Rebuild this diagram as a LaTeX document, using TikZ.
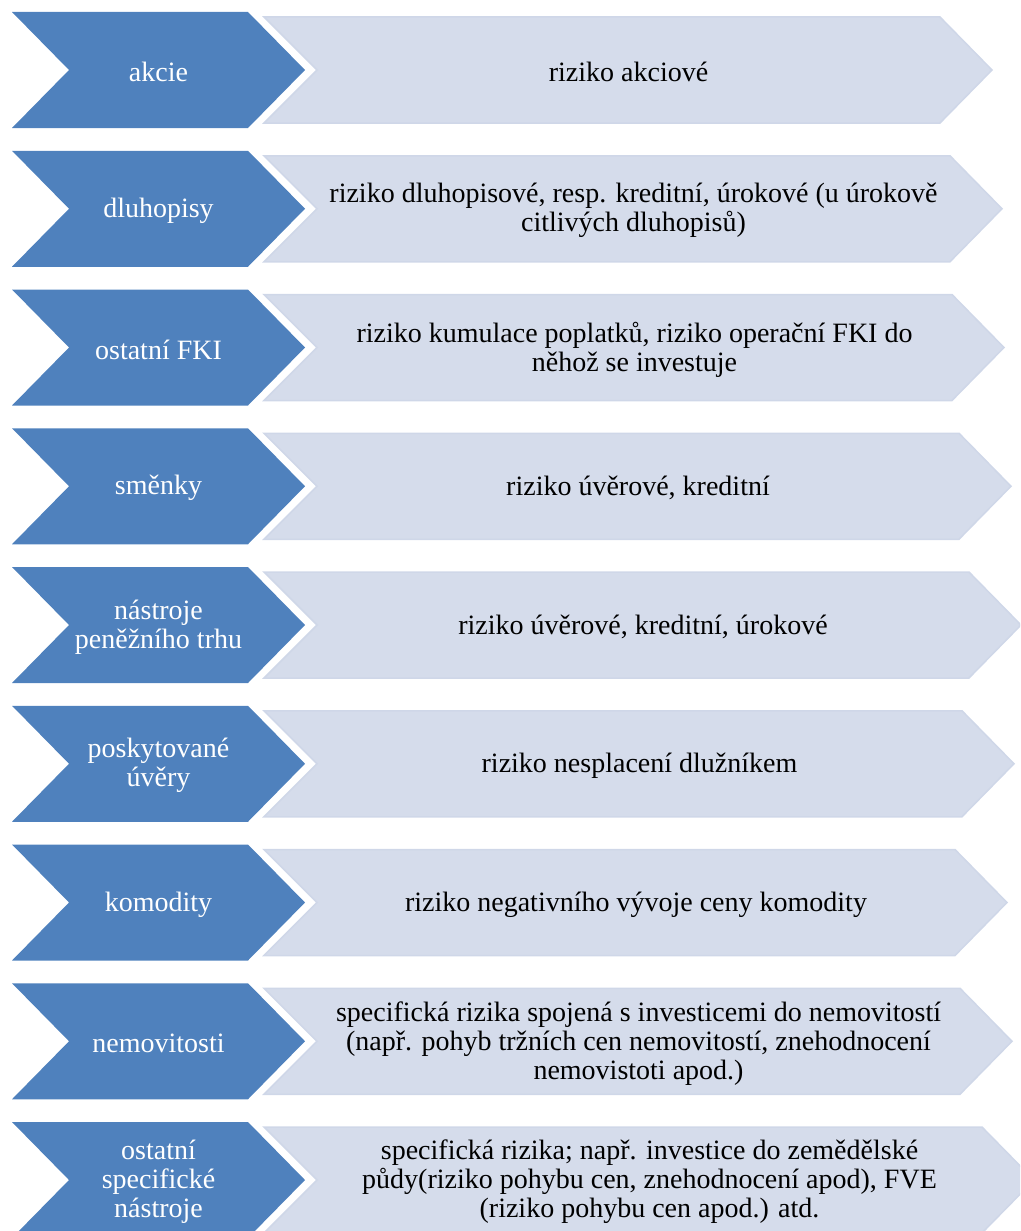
\documentclass[tikz,border=0pt]{standalone}
\usepackage{fontspec}
\setmainfont{Liberation Serif}
\newfontfamily\tnrfont{Liberation Serif}
\definecolor{chevblue}{HTML}{4F81BD}
\definecolor{chevlight}{HTML}{D5DCEB}
\definecolor{chevedge}{HTML}{CFD7E8}
\tikzset{
  bluechev/.style={fill=chevblue},
  lightchev/.style={fill=chevlight, draw=chevedge, line width=1.5pt, line join=miter},
  bluetext/.style={text=white, align=center, font=\tnrfont\fontsize{28}{29}\selectfont, inner sep=0pt},
  risktext/.style={text=black, align=center, font=\tnrfont\fontsize{28}{29}\selectfont, inner sep=0pt}
}
\newcommand\chevrow[5]{%
  \path[bluechev] (12,#2) -- (248,#2) -- (305,{#2+58}) -- (248,{#2+116}) -- (12,{#2+116}) -- (69,{#2+58}) -- cycle;
  \path[lightchev] (264,{#2+5}) -- (#3,{#2+5}) -- ({#3+52},{#2+58}) -- (#3,{#2+111}) -- (264,{#2+111}) -- (317,{#2+58}) -- cycle;
  \node[bluetext] (L#1) at (158.5,{#2+60}) {#4};
  \node[risktext] (R#1) at ({(317+#3)/2},{#2+60}) {#5};
}
\begin{document}
\begin{tikzpicture}[x=1pt,y=-1pt]
\useasboundingbox (0,0) rectangle (1020,1231);
\begin{scope}
\clip (0,0) rectangle (1020,1231);
\chevrow{a}{12}{940}{akcie}{riziko akciové}
\chevrow{b}{150.75}{950}{dluhopisy}{riziko dluhopisové, resp. kreditní, úrokové (u úrokově\\citlivých dluhopisů)}
\chevrow{c}{289.5}{952}{ostatní FKI}{riziko kumulace poplatků, riziko operační FKI do\\něhož se investuje}
\chevrow{d}{428.25}{959}{směnky}{riziko úvěrové, kreditní}
\chevrow{e}{567}{969}{nástroje\\peněžního trhu}{riziko úvěrové, kreditní, úrokové}
\chevrow{f}{705.75}{962}{poskytované\\úvěry}{riziko nesplacení dlužníkem}
\chevrow{g}{844.5}{955}{komodity}{riziko negativního vývoje ceny komodity}
\chevrow{h}{983.25}{960}{nemovitosti}{specifická rizika spojená s investicemi do nemovitostí\\(např. pohyb tržních cen nemovitostí, znehodnocení\\nemovistoti apod.)}
\chevrow{i}{1122}{982}{ostatní\\specifické\\nástroje}{specifická rizika; např. investice do zemědělské\\půdy(riziko pohybu cen, znehodnocení apod), FVE\\(riziko pohybu cen apod.) atd.}
\end{scope}
\end{tikzpicture}
\end{document}
